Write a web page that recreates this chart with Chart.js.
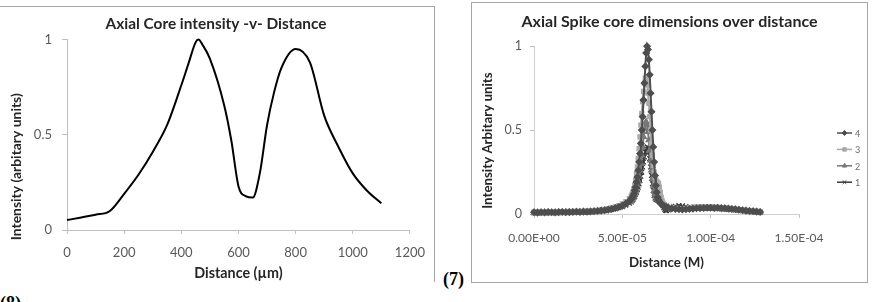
<!DOCTYPE html>
<html>
<head>
<meta charset="utf-8">
<script src="https://cdn.jsdelivr.net/npm/chart.js@4/dist/chart.umd.min.js"></script>
<style>
  html, body { margin: 0; padding: 0; background: #fff; }
  body { width: 876px; height: 302px; position: relative; overflow: hidden; }
  canvas { position: absolute; }
  #c1 { left: 0; top: 6px; }
  #c2 { left: 472px; top: 3px; }
  #frame1 { position: absolute; left: -2px; top: 6px; width: 437px; height: 276px;
            border-top: 1px solid #a6a6a6; border-right: 1px solid #a6a6a6; box-sizing: border-box; }
  #frame2 { position: absolute; left: 471px; top: 2px; width: 397px; height: 281px;
            border: 1px solid #a6a6a6; box-sizing: border-box; }
  .lbl { position: absolute; font-family: "Liberation Serif", "Times New Roman", serif;
         font-weight: bold; font-size: 18px; line-height: 18px; color: #000; }
  #l7 { left: 443px; top: 270px; }
  #l8 { left: 0px; top: 294px; }
</style>
</head>
<body>
<div id="frame1"></div>
<div id="frame2"></div>
<canvas id="c1" width="436" height="276"></canvas>
<canvas id="c2" width="396" height="279"></canvas>
<div class="lbl" id="l7">(7)</div>
<div class="lbl" id="l8">(8)</div>
<script>
// ---------- Chart (8): Axial Core intensity -v- Distance ----------
const coreDistance  = [0, 50, 100, 150, 200, 250, 300, 350, 400, 425, 450, 460, 475, 500, 550, 575, 600, 625, 650, 675, 700, 725, 750, 800, 850, 900, 950, 1000, 1050, 1100];
const coreIntensity = [0.052, 0.066, 0.080, 0.100, 0.19, 0.29, 0.41, 0.55, 0.76, 0.873, 0.985, 1.0, 0.97, 0.90, 0.655, 0.47, 0.23, 0.178, 0.17, 0.30, 0.55, 0.725, 0.85, 0.95, 0.88, 0.60, 0.436, 0.297, 0.206, 0.14];
const coreXTicks = [0, 200, 400, 600, 800, 1000, 1200];
const coreYTicks = [0, 0.5, 1];

// ---------- Chart (7): Axial Spike core dimensions over distance ----------
// distance in micrometres (converted to metres when plotted)
const spikeX = [0,2,4,6,8,10,12,14,16,18,20,22,24,26,28,30,32,34,36,38,40,42,44,46,48,50,52,54,
  55,55.5,56,56.5,57,57.5,58,58.5,59,59.5,60,60.5,61,61.5,62,62.5,63,63.5,64,64.5,65,65.5,66,66.5,67,67.5,68,68.5,69,69.5,70,70.5,71,71.5,72,72.5,73,73.5,74,74.5,75,
  76,78,80,82,84,86,88,90,92,94,96,98,100,102,104,106,108,110,112,114,116,118,120,122,124,126,128];
const spike4 = [0.010,0.008,0.010,0.009,0.011,0.010,0.009,0.011,0.012,0.010,0.011,0.012,0.013,0.012,0.014,0.013,0.015,0.016,0.018,0.020,0.022,0.026,0.030,0.036,0.042,0.050,0.062,0.078,
  0.088,0.096,0.106,0.12,0.14,0.16,0.19,0.22,0.26,0.31,0.36,0.42,0.50,0.58,0.68,0.78,0.88,0.96,1.0,0.98,0.92,0.83,0.72,0.61,0.50,0.40,0.31,0.23,0.17,0.13,0.10,0.085,0.075,0.066,0.060,0.055,0.051,0.048,0.045,0.042,0.040,
  0.037,0.033,0.030,0.028,0.027,0.028,0.030,0.032,0.034,0.035,0.036,0.037,0.037,0.036,0.037,0.035,0.034,0.032,0.030,0.028,0.025,0.022,0.020,0.018,0.016,0.014,0.012];
const spike3 = [0.012,0.013,0.011,0.012,0.013,0.012,0.014,0.013,0.012,0.014,0.015,0.014,0.015,0.016,0.015,0.017,0.018,0.019,0.021,0.024,0.027,0.031,0.036,0.042,0.050,0.060,0.074,0.092,
  0.105,0.118,0.132,0.15,0.17,0.20,0.24,0.28,0.33,0.39,0.46,0.53,0.60,0.67,0.73,0.78,0.81,0.80,0.77,0.72,0.66,0.58,0.50,0.42,0.35,0.29,0.25,0.22,0.20,0.19,0.19,0.18,0.16,0.13,0.10,0.08,0.065,0.055,0.05,0.046,0.043,
  0.040,0.036,0.033,0.031,0.032,0.034,0.037,0.040,0.042,0.043,0.044,0.043,0.042,0.041,0.040,0.038,0.036,0.034,0.032,0.029,0.026,0.024,0.022,0.020,0.018,0.016,0.014];
const spike2 = [0.008,0.009,0.008,0.010,0.009,0.008,0.010,0.009,0.010,0.011,0.010,0.011,0.012,0.011,0.013,0.012,0.014,0.015,0.017,0.019,0.022,0.025,0.029,0.034,0.040,0.048,0.058,0.072,
  0.080,0.088,0.097,0.107,0.12,0.135,0.15,0.17,0.195,0.225,0.26,0.30,0.35,0.40,0.46,0.51,0.54,0.55,0.53,0.49,0.44,0.38,0.32,0.26,0.21,0.17,0.14,0.12,0.105,0.095,0.09,0.085,0.08,0.075,0.07,0.065,0.06,0.056,0.052,0.048,0.045,
  0.041,0.036,0.032,0.029,0.028,0.029,0.031,0.033,0.035,0.036,0.035,0.034,0.035,0.034,0.033,0.032,0.031,0.029,0.027,0.025,0.023,0.021,0.019,0.017,0.015,0.013,0.011];
const spike1 = [0.006,0.007,0.006,0.008,0.007,0.008,0.007,0.009,0.008,0.009,0.010,0.009,0.011,0.010,0.012,0.011,0.013,0.014,0.016,0.018,0.020,0.023,0.027,0.031,0.037,0.044,0.053,0.065,
  0.072,0.079,0.087,0.096,0.106,0.118,0.13,0.145,0.16,0.18,0.20,0.225,0.25,0.28,0.31,0.34,0.37,0.39,0.40,0.395,0.37,0.33,0.28,0.23,0.18,0.14,0.11,0.095,0.088,0.085,0.083,0.08,0.078,0.075,0.07,0.062,0.05,0.038,0.028,0.022,0.02,
  0.024,0.034,0.045,0.05,0.048,0.044,0.040,0.038,0.037,0.036,0.034,0.033,0.034,0.033,0.032,0.031,0.030,0.028,0.026,0.024,0.022,0.020,0.018,0.016,0.014,0.012,0.010];
const spikeLabels = ['4', '3', '2', '1'];
const spikeXTicks = [0, 5e-5, 1e-4, 1.5e-4];
const spikeYTicks = [0, 0.5, 1];

Chart.defaults.font.family = 'Lato, "Open Sans", sans-serif';
Chart.defaults.animation = false;

const axisGray = '#bfbfbf';
const tickGray = '#595959';
const titleCol = '#262626';

function sciLabel(v) {
  if (v === 0) return '0.00E+00';
  const parts = v.toExponential(2).split('e');
  const n = parseInt(parts[1], 10);
  return parts[0] + 'E' + (n < 0 ? '-' : '+') + String(Math.abs(n)).padStart(2, '0');
}

// shifts a y-axis title along the axis (as in the source chart)
const yTitleShift = {
  id: 'yTitleShift',
  beforeDraw(chart, args, opts) {
    const s = chart.scales.y;
    if (!s || s._shiftPatched) return;
    const orig = s.drawTitle;
    s.drawTitle = function () {
      const t = this.top, b = this.bottom;
      this.top += opts.shift; this.bottom += opts.shift;
      orig.call(this);
      this.top = t; this.bottom = b;
    };
    s._shiftPatched = true;
  }
};

// moves the chart title horizontally (source titles are centred on the whole frame)
const titleShift = {
  id: 'titleShift',
  afterLayout(chart, args, opts) {
    const t = chart.titleBlock;
    if (!t) return;
    t.left += opts.dx;
    t.right += opts.dx;
  }
};

// Excel-like legend: line + marker + label
const sideLegend = {
  id: 'sideLegend',
  afterDatasetsDraw(chart, args, opts) {
    const ctx = chart.ctx;
    ctx.save();
    ctx.font = opts.font;
    ctx.textBaseline = 'middle';
    chart.data.datasets.forEach((ds, i) => {
      const y = opts.y0 + i * opts.dy;
      ctx.strokeStyle = ds.borderColor;
      ctx.lineWidth = 1.5;
      ctx.beginPath();
      ctx.moveTo(opts.x0, y);
      ctx.lineTo(opts.x0 + opts.len, y);
      ctx.stroke();
      ctx.fillStyle = ds.backgroundColor;
      ctx.lineWidth = 1;
      if (Chart.helpers && Chart.helpers.drawPoint) {
        Chart.helpers.drawPoint(ctx, { pointStyle: ds.pointStyle, radius: 2.5, rotation: 0, borderWidth: 1 }, opts.x0 + opts.len / 2, y);
      }
      ctx.fillStyle = opts.color;
      ctx.fillText(ds.label, opts.x0 + opts.len + 3, y + 1);
    });
    ctx.restore();
  }
};

function axisGrid(len) {
  return { display: true, drawOnChartArea: false, drawTicks: true, tickLength: len, color: axisGray };
}

// ---------- Chart (8) ----------
new Chart(document.getElementById('c1'), {
  type: 'line',
  data: {
    datasets: [{
      data: coreDistance.map((d, i) => ({ x: d, y: coreIntensity[i] })),
      borderColor: '#000',
      borderWidth: 2,
      pointRadius: 0,
      cubicInterpolationMode: 'monotone',
      fill: false,
      clip: false
    }]
  },
  options: {
    responsive: false,
    devicePixelRatio: 1,
    layout: { padding: { left: 0, right: 21, top: 0, bottom: 0 } },
    plugins: {
      legend: { display: false },
      tooltip: { enabled: false },
      title: {
        display: true,
        text: 'Axial Core intensity -v- Distance',
        color: titleCol,
        font: { size: 15.4, weight: 'bold' },
        padding: { top: 9, bottom: 6 }
      },
      titleShift: { dx: 8.5 },
      yTitleShift: { shift: 32 }
    },
    scales: {
      x: {
        type: 'linear',
        min: 0, max: 1200,
        afterBuildTicks(s) { s.ticks = coreXTicks.map(v => ({ value: v })); },
        ticks: { color: tickGray, font: { size: 13 }, padding: 11, maxRotation: 0, callback: (v) => String(v) },
        grid: axisGrid(4),
        border: { display: true, color: axisGray },
        title: { display: true, text: 'Distance (µm)', color: titleCol, font: { size: 14.3, weight: 'bold' }, padding: { top: 0, bottom: 0.5 } },
        afterFit(s) { s.height = 52; }
      },
      y: {
        min: 0, max: 1,
        afterBuildTicks(s) { s.ticks = coreYTicks.map(v => ({ value: v })); },
        ticks: { color: tickGray, font: { size: 13 }, padding: 10, callback: (v) => String(v) },
        grid: axisGrid(5),
        border: { display: true, color: axisGray },
        title: { display: true, text: 'Intensity (arbitary units)', color: titleCol, font: { size: 13.9, weight: 'bold' }, padding: { top: 7.7, bottom: 0 } },
        afterFit(s) { s.width = 67; }
      }
    }
  },
  plugins: [yTitleShift, titleShift]
});

// ---------- Chart (7) ----------
const spikeSeries = [spike4, spike3, spike2, spike1];
const spikeStyle = [
  { color: '#4e4e4e', point: 'rectRot', r: 3.2 },
  { color: '#aaaaaa', point: 'rect', r: 2.9 },
  { color: '#777777', point: 'triangle', r: 3.2 },
  { color: '#3a3a3a', point: 'crossRot', r: 3.4 }
];
new Chart(document.getElementById('c2'), {
  type: 'line',
  data: {
    datasets: spikeSeries.map((vals, k) => ({
      label: spikeLabels[k],
      data: spikeX.map((um, i) => ({ x: um * 1e-6, y: vals[i] })),
      borderColor: spikeStyle[k].color,
      backgroundColor: spikeStyle[k].color,
      pointBorderColor: spikeStyle[k].color,
      pointBackgroundColor: spikeStyle[k].color,
      pointStyle: spikeStyle[k].point,
      pointRadius: spikeStyle[k].r,
      pointBorderWidth: 1.2,
      borderWidth: 2,
      tension: 0,
      fill: false,
      clip: false
    }))
  },
  options: {
    responsive: false,
    devicePixelRatio: 1,
    layout: { padding: { left: 0, right: 69, top: 0, bottom: 0 } },
    plugins: {
      legend: { display: false },
      tooltip: { enabled: false },
      title: {
        display: true,
        text: 'Axial Spike core dimensions over distance',
        color: titleCol,
        font: { size: 16, weight: 'bold' },
        padding: { top: 9, bottom: 15 }
      },
      titleShift: { dx: 34 },
      yTitleShift: { shift: 10.5 },
      sideLegend: { x0: 365, len: 15, y0: 130, dy: 16.4, font: '9px Lato, sans-serif', color: '#6b6b6b' }
    },
    scales: {
      x: {
        type: 'linear',
        min: 0, max: 1.5e-4,
        afterBuildTicks(s) { s.ticks = spikeXTicks.map(v => ({ value: v })); },
        ticks: { color: tickGray, font: { size: 12 }, padding: 13, maxRotation: 0, callback: (v) => sciLabel(v) },
        grid: axisGrid(4),
        border: { display: true, color: '#cfcfcf' },
        title: { display: true, text: 'Distance (M)', color: titleCol, font: { size: 13.3, weight: 'bold' }, padding: { top: 0, bottom: 11 } },
        afterFit(s) { s.height = 68; }
      },
      y: {
        min: 0, max: 1,
        afterBuildTicks(s) { s.ticks = spikeYTicks.map(v => ({ value: v })); },
        ticks: { color: tickGray, font: { size: 12.5 }, padding: 8, callback: (v) => String(v) },
        grid: axisGrid(4),
        border: { display: true, color: '#cfcfcf' },
        title: { display: true, text: 'Intensity Arbitary units', color: titleCol, font: { size: 13.3, weight: 'bold' }, padding: { top: 8, bottom: 0 } },
        afterFit(s) { s.width = 62; }
      }
    }
  },
  plugins: [yTitleShift, titleShift, sideLegend]
});
</script>
</body>
</html>
